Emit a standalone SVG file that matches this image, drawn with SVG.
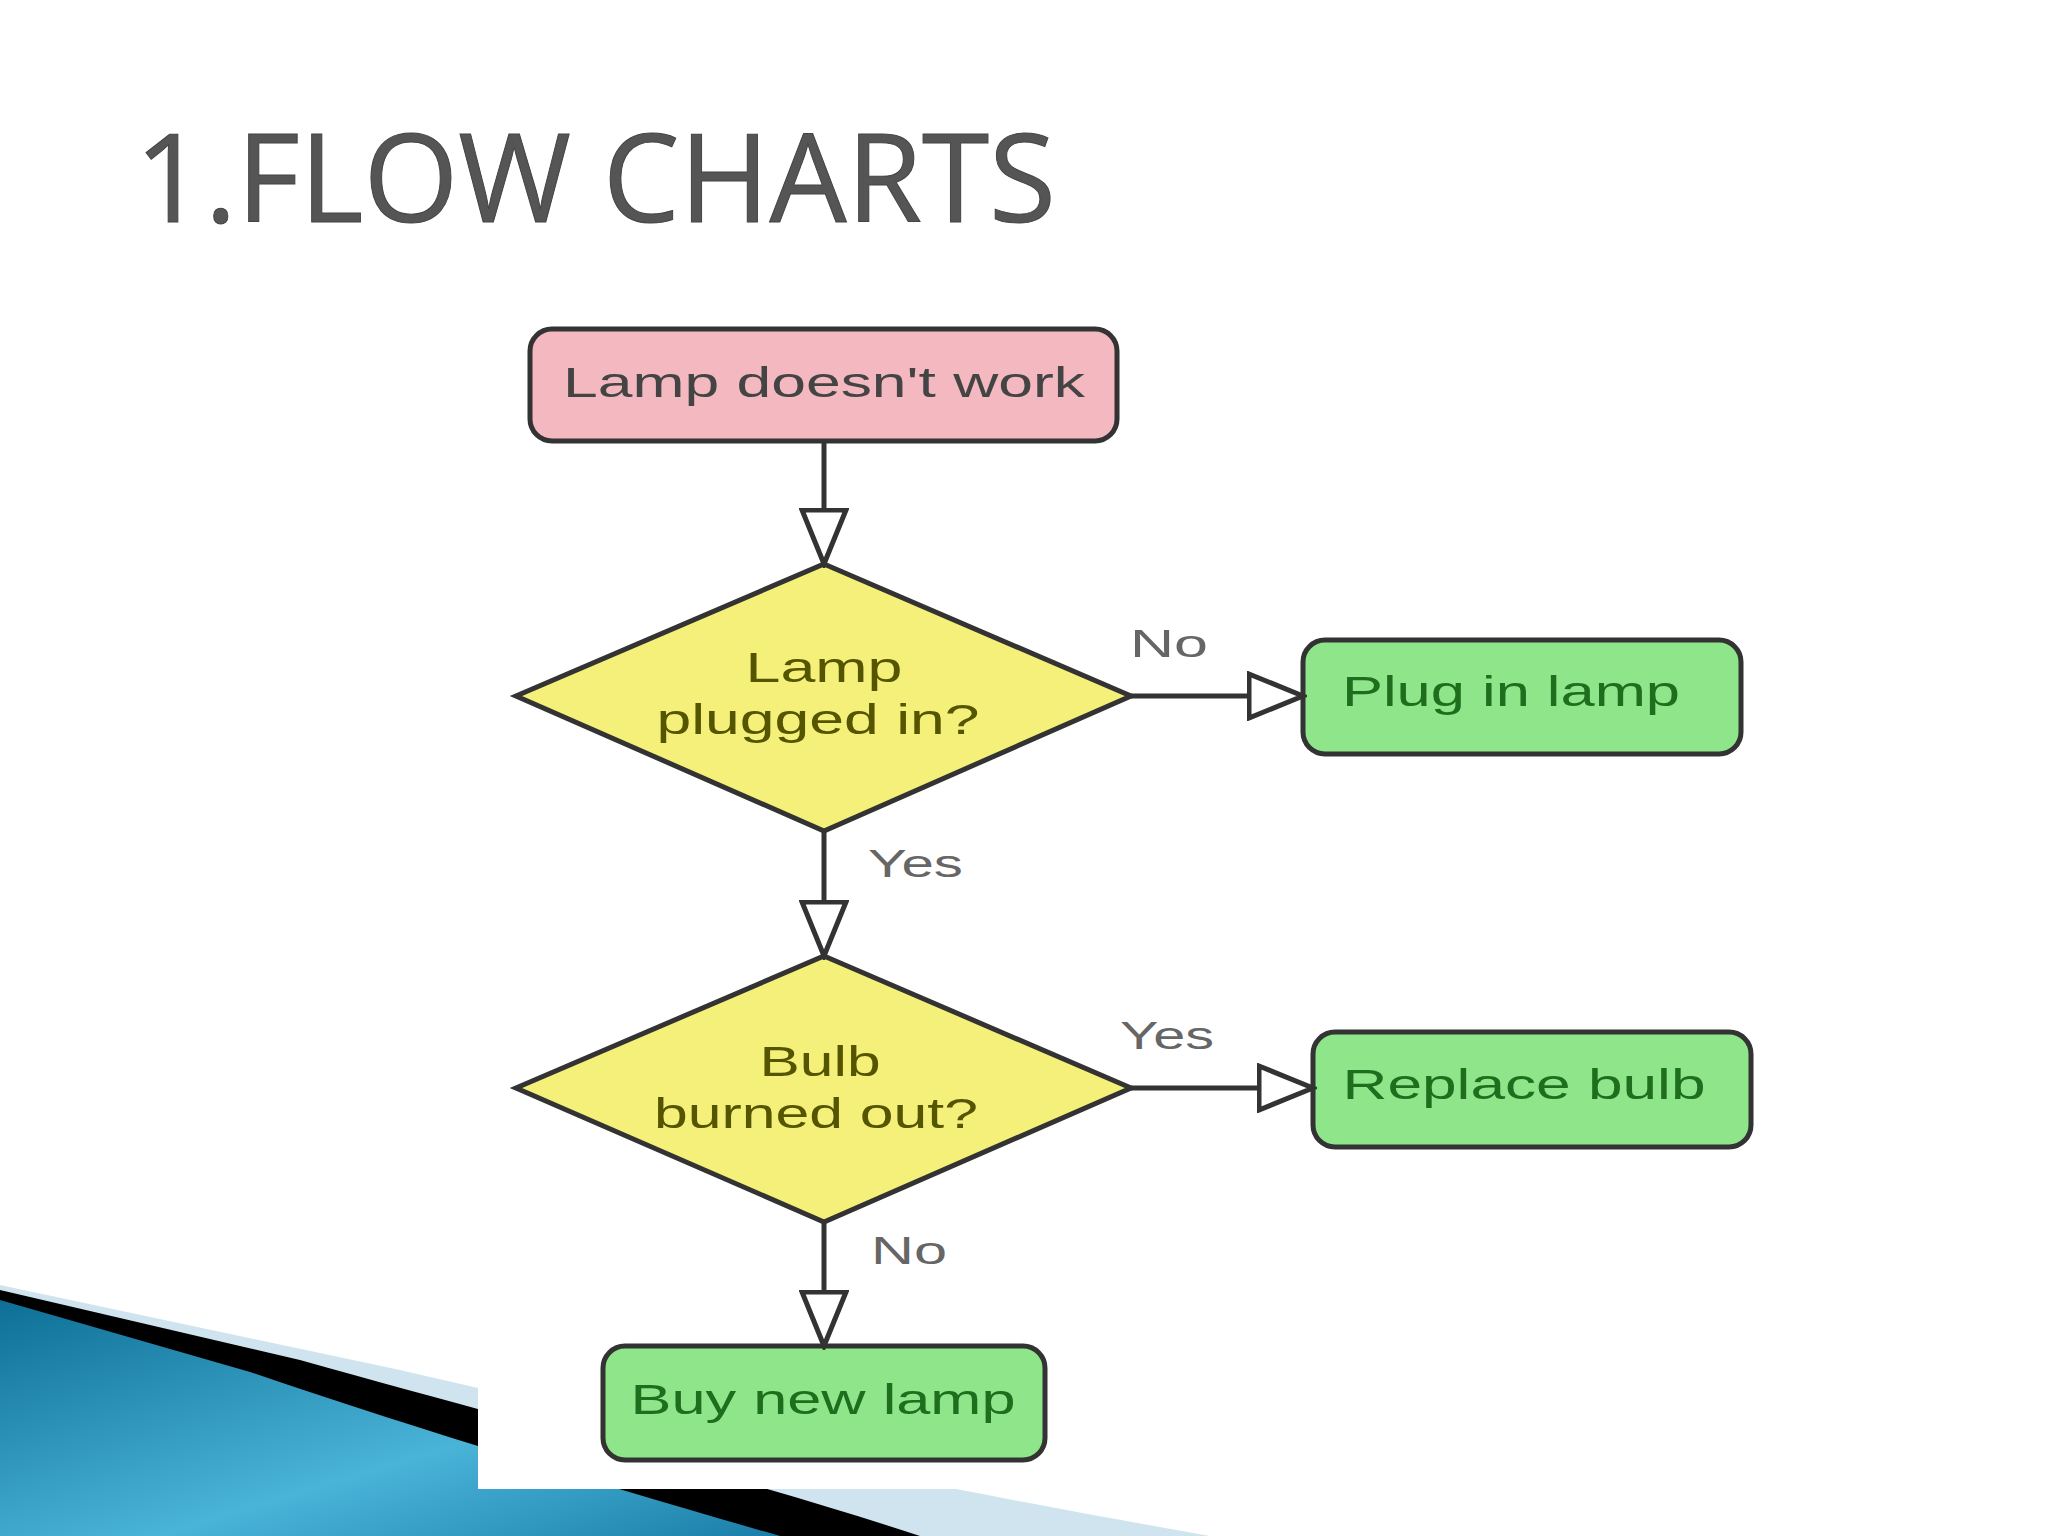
<svg xmlns="http://www.w3.org/2000/svg" width="2048" height="1536" viewBox="0 0 2048 1536">
<defs>
<linearGradient id="blue" x1="0" y1="0" x2="1" y2="1"><stop offset="0" stop-color="#0d6f96"/><stop offset="0.6" stop-color="#4ab3d8"/><stop offset="1" stop-color="#1a7fa8"/></linearGradient>
<marker id="tri" markerWidth="60" markerHeight="50" refX="56" refY="25" orient="auto" markerUnits="userSpaceOnUse"><path d="M2,3 L56,25 L2,47 Z" fill="#fff" stroke="#333" stroke-width="5"/></marker>
</defs>
<style>
.box{stroke:#333;stroke-width:5}
.t{font-family:"Liberation Sans",Arial,sans-serif;font-size:42px;text-anchor:middle}
.g{fill:#1e6e1e}
.y{fill:#555500}
.lbl{font-family:"Liberation Sans",Arial,sans-serif;font-size:38px;fill:#666}
.c{stroke:#333;stroke-width:5;fill:none}
</style>
<rect width="2048" height="1536" fill="#fff"/>
<path d="M0,1285 L400,1370 C700,1440 950,1490 1210,1536 H0 Z" fill="#cfe4ee"/>
<path d="M0,1290 L300,1360 C550,1430 750,1480 920,1536 H0 Z" fill="#000"/>
<path d="M0,1300 L250,1372 C450,1440 620,1490 780,1536 H0 Z" fill="url(#blue)"/>
<rect x="478" y="303" width="1300" height="1186" fill="#fff"/>
<text x="135" y="222" font-family="'Open Sans','Liberation Sans',sans-serif" font-size="122" fill="#555" stroke="#444" stroke-width="1">1.FLOW CHARTS</text>
<g id="n1"><rect class="box" x="530" y="329" width="587" height="112" rx="22" fill="#f4b8c0"/><text class="t" x="824" y="397" fill="#444" textLength="522" lengthAdjust="spacingAndGlyphs">Lamp doesn't work</text></g>
<g id="d1"><polygon class="box" points="824,564 1131,696 824,831 516,696" fill="#f4f07a"/><text class="t y" x="824" y="682" textLength="157" lengthAdjust="spacingAndGlyphs">Lamp</text><text class="t y" x="818" y="734" textLength="323" lengthAdjust="spacingAndGlyphs">plugged in?</text></g>
<g id="n2"><rect class="box" x="1303" y="640" width="438" height="114" rx="22" fill="#8ee58a"/><text class="t g" x="1511" y="706" textLength="338" lengthAdjust="spacingAndGlyphs">Plug in lamp</text></g>
<g id="d2"><polygon class="box" points="824,956 1131,1088 824,1222 516,1088" fill="#f4f07a"/><text class="t y" x="820" y="1076" textLength="121" lengthAdjust="spacingAndGlyphs">Bulb</text><text class="t y" x="816" y="1128" textLength="324" lengthAdjust="spacingAndGlyphs">burned out?</text></g>
<g id="n3"><rect class="box" x="1313" y="1032" width="438" height="115" rx="22" fill="#8ee58a"/><text class="t g" x="1524" y="1099" textLength="363" lengthAdjust="spacingAndGlyphs">Replace bulb</text></g>
<g id="n4"><rect class="box" x="603" y="1346" width="442" height="114" rx="22" fill="#8ee58a"/><text class="t g" x="823" y="1414" textLength="385" lengthAdjust="spacingAndGlyphs">Buy new lamp</text></g>
<g id="connectors">
<line class="c" x1="824" y1="441" x2="824" y2="564" marker-end="url(#tri)"/>
<line class="c" x1="1131" y1="696" x2="1303" y2="696" marker-end="url(#tri)"/>
<line class="c" x1="824" y1="831" x2="824" y2="956" marker-end="url(#tri)"/>
<line class="c" x1="1131" y1="1088" x2="1313" y2="1088" marker-end="url(#tri)"/>
<line class="c" x1="824" y1="1222" x2="824" y2="1346" marker-end="url(#tri)"/>
<text class="lbl" x="1130" y="657" textLength="78" lengthAdjust="spacingAndGlyphs">No</text>
<text class="lbl" x="868" y="877" textLength="95" lengthAdjust="spacingAndGlyphs">Yes</text>
<text class="lbl" x="1120" y="1049" textLength="94" lengthAdjust="spacingAndGlyphs">Yes</text>
<text class="lbl" x="871" y="1264" textLength="76" lengthAdjust="spacingAndGlyphs">No</text>
</g>
</svg>
